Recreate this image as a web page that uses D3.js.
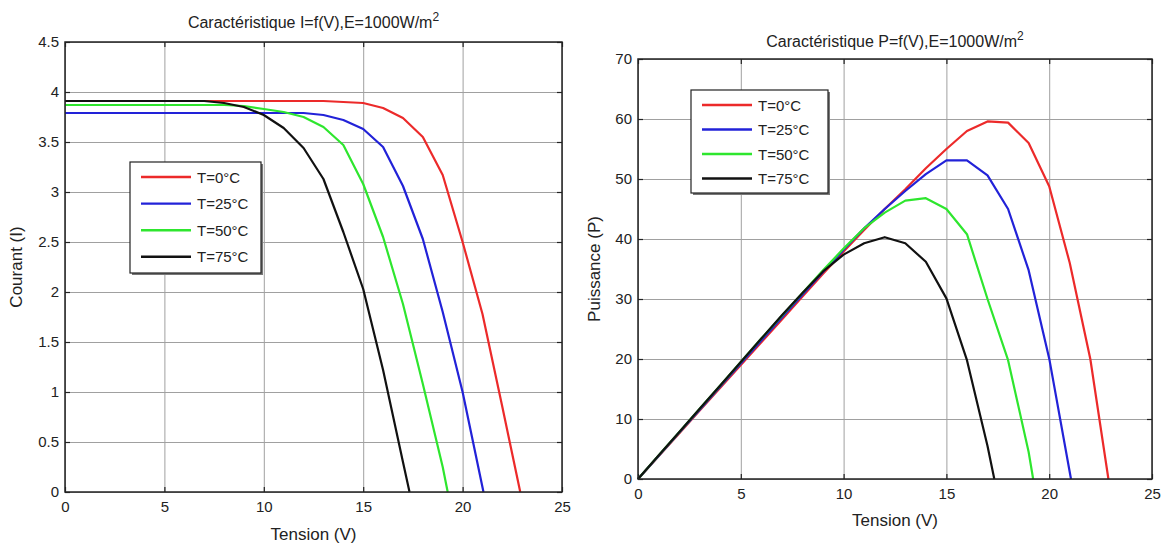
<!DOCTYPE html>
<html>
<head>
<meta charset="utf-8">
<script src="https://cdn.jsdelivr.net/npm/d3@7"></script>
<style>
  body { margin: 0; background: #fff; }
  svg { font-family: "Liberation Sans", Arial, sans-serif; fill: #222; }
  .grid line { stroke: #a0a0a0; stroke-width: 1; }
  .grid path { display: none; }
  .ticks path { display: none; }
  .ticks line { stroke: #222; stroke-width: 1.2; }
  .ticks text { font-size: 15px; fill: #222; }
  .frame { fill: none; stroke: #222; stroke-width: 1.5; }
  .curve { fill: none; stroke-width: 2.2; stroke-linejoin: round; }
  .title { font-size: 16px; }
  .axis-label { font-size: 17px; }
  .legend text { font-size: 15px; }
</style>
</head>
<body>
<svg id="chart" width="1169" height="545"></svg>
<script>
// legend labels
const temperatures = ["T=0°C", "T=25°C", "T=50°C", "T=75°C"];

// I = f(V)
const ivTension0 = [0,1,2,3,4,5,6,7,8,9,10,11,12,13,14,15,16,17,18,19,20,21,22,22.9];
const ivCourant0 = [3.91,3.91,3.91,3.91,3.91,3.91,3.91,3.91,3.91,3.91,3.91,3.91,3.91,3.91,3.90,3.89,3.84,3.74,3.55,3.17,2.5,1.78,0.85,0];
const ivTension25 = [0,1,2,3,4,5,6,7,8,9,10,11,12,13,14,15,16,17,18,19,20,21.05];
const ivCourant25 = [3.79,3.79,3.79,3.79,3.79,3.79,3.79,3.79,3.79,3.79,3.79,3.79,3.79,3.77,3.72,3.63,3.45,3.06,2.53,1.8,1.0,0];
const ivTension50 = [0,1,2,3,4,5,6,7,8,9,10,11,12,13,14,15,16,17,18,19,19.25];
const ivCourant50 = [3.87,3.87,3.87,3.87,3.87,3.87,3.87,3.87,3.87,3.86,3.83,3.80,3.75,3.65,3.47,3.08,2.55,1.88,1.08,0.25,0];
const ivTension75 = [0,1,2,3,4,5,6,7,8,9,10,11,12,13,14,15,16,17,17.33];
const ivCourant75 = [3.91,3.91,3.91,3.91,3.91,3.91,3.91,3.91,3.89,3.85,3.77,3.64,3.44,3.13,2.6,2.03,1.22,0.3,0];

// P = f(V)
const pvTension0 = [0,1,2,3,4,5,6,7,8,9,10,11,12,13,14,15,16,17,18,19,20,21,22,22.88];
const pvPuissance0 = [0,3.8,7.6,11.4,15.2,19.0,22.8,26.6,30.4,34.2,37.9,41.5,45.0,48.3,51.8,55.0,58.0,59.6,59.4,56.0,48.8,36.0,20.0,0];
const pvTension25 = [0,1,2,3,4,5,6,7,8,9,10,11,12,13,14,15,16,17,18,19,20,21.06];
const pvPuissance25 = [0,3.85,7.7,11.55,15.4,19.25,23.1,26.9,30.7,34.5,38.2,41.8,45.0,48.0,50.8,53.1,53.1,50.6,45.0,34.8,20.1,0];
const pvTension50 = [0,1,2,3,4,5,6,7,8,9,10,11,12,13,14,15,16,17,18,19,19.22];
const pvPuissance50 = [0,3.9,7.8,11.7,15.6,19.5,23.4,27.2,31.0,34.8,38.4,41.8,44.4,46.4,46.8,45.0,40.8,30.0,19.8,4.5,0];
const pvTension75 = [0,1,2,3,4,5,6,7,8,9,10,11,12,13,14,15,16,17,17.33];
const pvPuissance75 = [0,3.9,7.8,11.7,15.6,19.5,23.4,27.3,31.0,34.6,37.4,39.3,40.3,39.3,36.2,30.1,19.8,5.5,0];

// tick values
const tensionTicks = [0, 5, 10, 15, 20, 25];
const courantTicks = [0, 0.5, 1, 1.5, 2, 2.5, 3, 3.5, 4, 4.5];
const puissanceTicks = [0, 10, 20, 30, 40, 50, 60, 70];

const colors = ["#ec2a2a", "#2222d8", "#2ee62e", "#111111"];

const svg = d3.select("#chart");

/**
 * Draw one panel (frame, grid, ticks, curves, legend)
 */
function drawPanel(opt) {
    const g = svg.append("g")
        .attr("transform", `translate(${opt.left}, ${opt.top})`);

    const x = d3.scaleLinear().domain([0, 25]).range([0, opt.width]);
    const y = d3.scaleLinear().domain(opt.yDomain).range([opt.height, 0]);

    // grid
    g.append("g")
        .attr("class", "grid")
        .call(d3.axisBottom(x).tickValues(tensionTicks).tickSize(opt.height).tickFormat(""));
    g.append("g")
        .attr("class", "grid")
        .call(d3.axisLeft(y).tickValues(opt.yTicks).tickSize(-opt.width).tickFormat(""));

    // inward ticks on all four sides
    g.append("g")
        .attr("class", "ticks")
        .attr("transform", `translate(0, ${opt.height})`)
        .call(d3.axisBottom(x).tickValues(tensionTicks).tickSize(-5).tickPadding(9).tickFormat(d => d));
    g.append("g")
        .attr("class", "ticks")
        .call(d3.axisTop(x).tickValues(tensionTicks).tickSize(-5).tickFormat(""));
    g.append("g")
        .attr("class", "ticks")
        .call(d3.axisLeft(y).tickValues(opt.yTicks).tickSize(-5).tickPadding(6).tickFormat(d => d));
    g.append("g")
        .attr("class", "ticks")
        .attr("transform", `translate(${opt.width}, 0)`)
        .call(d3.axisRight(y).tickValues(opt.yTicks).tickSize(-5).tickFormat(""));

    // curves
    const line = d3.line()
        .x(d => x(d[0]))
        .y(d => y(d[1]));

    opt.series.forEach((s, i) => {
        g.append("path")
            .attr("class", "curve")
            .attr("stroke", colors[i])
            .attr("d", line(d3.zip(s.v, s.val)));
    });

    g.append("rect")
        .attr("class", "frame")
        .attr("width", opt.width)
        .attr("height", opt.height);

    // title with superscript
    const title = g.append("text")
        .attr("class", "title")
        .attr("x", opt.width / 2)
        .attr("y", opt.titleY)
        .attr("text-anchor", "middle")
        .text(opt.title);
    title.append("tspan")
        .attr("dy", -7)
        .attr("font-size", "12px")
        .text("2");

    // axis labels
    g.append("text")
        .attr("class", "axis-label")
        .attr("x", opt.width / 2)
        .attr("y", opt.height + opt.xLabelDy)
        .attr("text-anchor", "middle")
        .text("Tension (V)");
    g.append("text")
        .attr("class", "axis-label")
        .attr("transform", `translate(${opt.yLabelDx}, ${opt.height / 2}) rotate(-90)`)
        .attr("text-anchor", "middle")
        .text(opt.yLabel);

    // legend
    const lg = g.append("g")
        .attr("class", "legend")
        .attr("transform", `translate(${opt.legend.x}, ${opt.legend.y})`);
    lg.append("rect")
        .attr("x", 2).attr("y", 2)
        .attr("width", opt.legend.w).attr("height", opt.legend.h)
        .attr("fill", "#777");
    lg.append("rect")
        .attr("width", opt.legend.w).attr("height", opt.legend.h)
        .attr("fill", "#fff")
        .attr("stroke", "#222")
        .attr("stroke-width", 1.2);
    temperatures.forEach((t, i) => {
        const yy = 15 + i * opt.legend.step;
        lg.append("line")
            .attr("x1", 11).attr("x2", 61)
            .attr("y1", yy).attr("y2", yy)
            .attr("stroke", colors[i])
            .attr("stroke-width", 2.4);
        lg.append("text")
            .attr("x", 67)
            .attr("y", yy + 5.5)
            .text(t);
    });
}

drawPanel({
    left: 65, top: 42, width: 497, height: 450,
    yDomain: [0, 4.5], yTicks: courantTicks,
    title: "Caractéristique I=f(V),E=1000W/m", titleY: -14,
    yLabel: "Courant (I)", yLabelDx: -43, xLabelDy: 48,
    legend: { x: 65, y: 120, w: 131, h: 111, step: 26.6 },
    series: [
        { v: ivTension0, val: ivCourant0 },
        { v: ivTension25, val: ivCourant25 },
        { v: ivTension50, val: ivCourant50 },
        { v: ivTension75, val: ivCourant75 }
    ]
});

drawPanel({
    left: 638, top: 59, width: 514, height: 420,
    yDomain: [0, 70], yTicks: puissanceTicks,
    title: "Caractéristique P=f(V),E=1000W/m", titleY: -12,
    yLabel: "Puissance (P)", yLabelDx: -38, xLabelDy: 47,
    legend: { x: 53, y: 31, w: 137, h: 103, step: 24.5 },
    series: [
        { v: pvTension0, val: pvPuissance0 },
        { v: pvTension25, val: pvPuissance25 },
        { v: pvTension50, val: pvPuissance50 },
        { v: pvTension75, val: pvPuissance75 }
    ]
});
</script>
</body>
</html>
